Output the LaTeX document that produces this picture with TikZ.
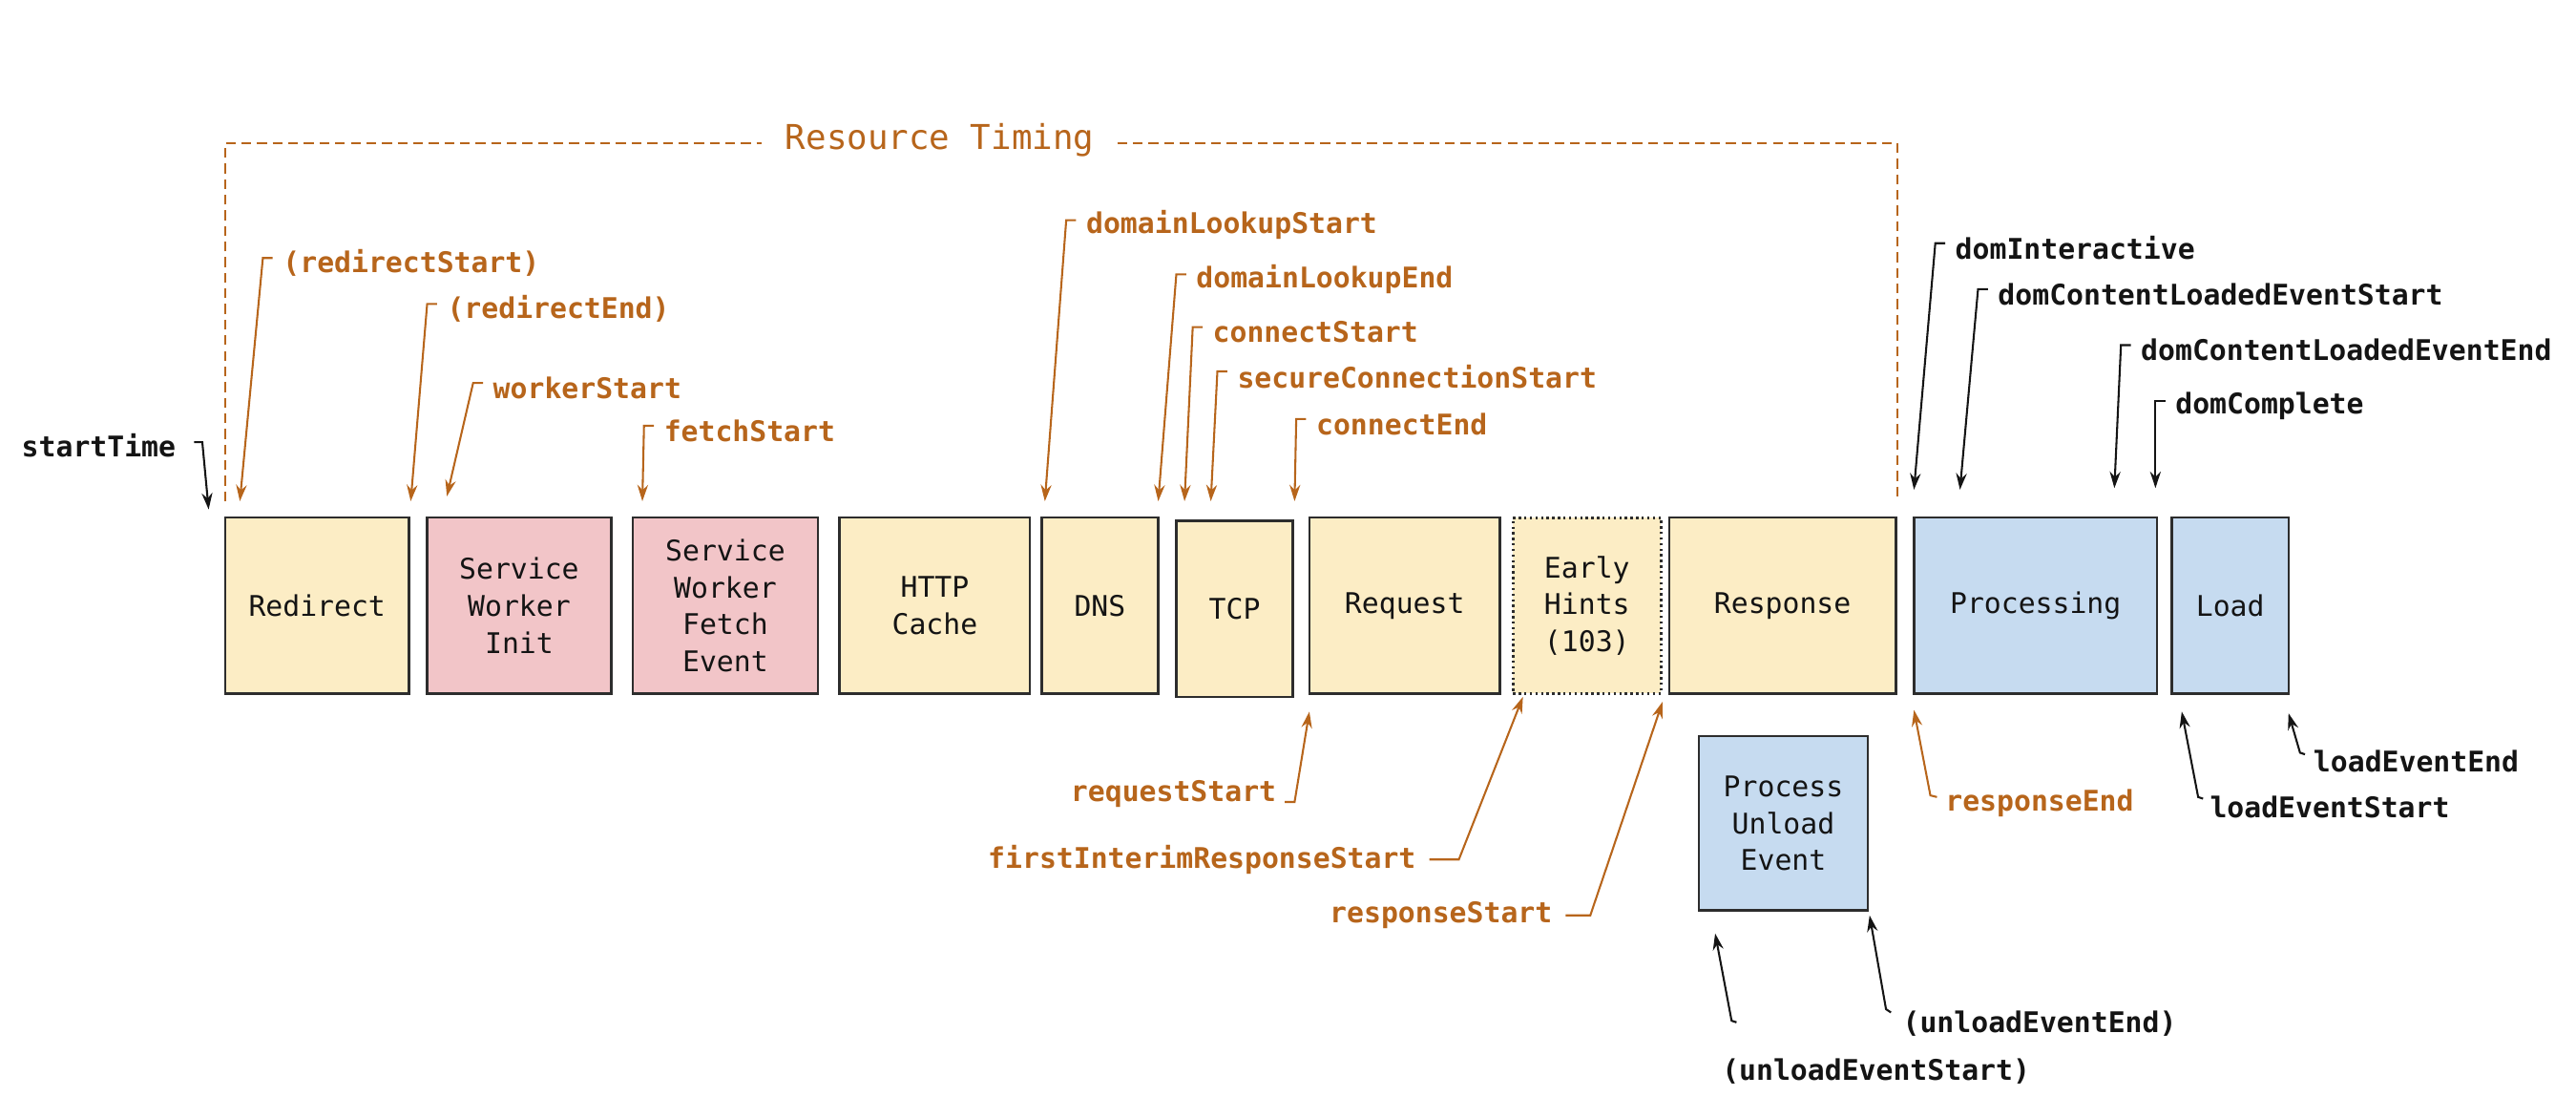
\documentclass[tikz,border=0pt]{standalone}
\usepackage{fontspec}
\setmonofont{DejaVu Sans Mono}
\usetikzlibrary{arrows.meta,calc}
\definecolor{ora}{RGB}{183,101,27}
\definecolor{yel}{RGB}{252,237,197}
\definecolor{pnk}{RGB}{242,197,200}
\definecolor{blu}{RGB}{198,219,240}
\definecolor{bord}{RGB}{45,45,45}
\definecolor{ink}{RGB}{20,20,20}
\begin{document}
\begin{tikzpicture}[x=1pt,y=-1pt,
  box/.style={draw=bord, line width=1.4pt, minimum height=107pt, inner sep=0pt, align=center,
    font=\ttfamily\fontsize{17.3}{22.5}\selectfont, text=ink},
  ybox/.style={box, fill=yel},
  pbox/.style={box, fill=pnk},
  bbox/.style={box, fill=blu},
  lbl/.style={font=\ttfamily\bfseries\fontsize{17.3}{20}\selectfont, inner sep=0pt},
  olbl/.style={lbl, text=ora},
  klbl/.style={lbl, text=ink},
  oarr/.style={draw=ora, line width=1.2pt, -{Stealth[length=10pt,width=6.5pt]}},
  karr/.style={draw=ink, line width=1.2pt, -{Stealth[length=10pt,width=6.5pt]}},
  dsh/.style={draw=ora, line width=1.2pt, dash pattern=on 6pt off 3.5pt}
]
\useasboundingbox (0,0) rectangle (1568,680);

% ---- Resource Timing bracket
\node[font=\ttfamily\fontsize{20.8}{24}\selectfont, text=ora, inner sep=14pt] (rt) at (572,85) {Resource Timing};
\coordinate (bl) at (137,305);
\coordinate (tlc) at (137,87);
\coordinate (trc) at (1155,87);
\coordinate (brc) at (1155,305);
\draw[dsh] (bl) -- (tlc) -- (tlc -| rt.west);
\draw[dsh] (trc -| rt.east) -- (trc) -- (brc);

% ---- boxes
\node[ybox, minimum width=112pt] (redirect) at (193,368.5) {Redirect};
\node[pbox, minimum width=112pt] (swinit) at (316,368.5) {Service\\Worker\\Init};
\node[pbox, minimum width=113pt] (swfetch) at (441.5,368.5) {Service\\Worker\\Fetch\\Event};
\node[ybox, minimum width=116pt] (cache) at (569,368.5) {HTTP\\Cache};
\node[ybox, minimum width=71pt] (dns) at (669.5,368.5) {DNS};
\node[ybox, minimum width=71pt] (tcp) at (751.5,370.5) {TCP};
\node[ybox, minimum width=116pt] (request) at (855,368.5) {Request};
\node[ybox, minimum width=90pt, dotted, line width=1.6pt] (early) at (966,368.5) {Early\\Hints\\(103)};
\node[ybox, minimum width=138pt] (response) at (1085,368.5) {Response};
\node[bbox, minimum width=148pt] (processing) at (1239,368.5) {Processing};
\node[bbox, minimum width=71pt] (load) at (1357.5,368.5) {Load};
\node[bbox, minimum width=103pt, minimum height=106pt] (unload) at (1085.5,501) {Process\\Unload\\Event};

% ---- tip coordinates
\coordinate (tStart) at (127,310);
\coordinate (tRS) at (146,305);
\coordinate (tRE) at (250,305);
\coordinate (tWS) at (272,302);
\coordinate (tFS) at (391,305);
\coordinate (tDLS) at (636,305);
\coordinate (tDLE) at (705,305);
\coordinate (tCS) at (721,305);
\coordinate (tSCS) at (737,305);
\coordinate (tCE) at (788,305);
\coordinate (tDI) at (1165,298);
\coordinate (tDCLS) at (1193,298);
\coordinate (tDCLE) at (1287,297);
\coordinate (tDC) at (1312,297);
\coordinate (tReqS) at (797,433);
\coordinate (tFIRS) at (927,424);
\coordinate (tRespS) at (1012,427);
\coordinate (tRespE) at (1165,432);
\coordinate (tLES) at (1328,433);
\coordinate (tLEE) at (1393,434);
\coordinate (tUEE) at (1138,557);
\coordinate (tUES) at (1044,568);

% ---- top labels
\node[klbl, anchor=west] (lStart) at (13,271) {startTime};
\node[olbl, anchor=west] (lRS) at (172,160) {(redirectStart)};
\node[olbl, anchor=west] (lRE) at (272,188) {(redirectEnd)};
\node[olbl, anchor=west] (lWS) at (300,236) {workerStart};
\node[olbl, anchor=west] (lFS) at (404,262) {fetchStart};
\node[olbl, anchor=west] (lDLS) at (661,137) {domainLookupStart};
\node[olbl, anchor=west] (lDLE) at (728,170) {domainLookupEnd};
\node[olbl, anchor=west] (lCS) at (738,202) {connectStart};
\node[olbl, anchor=west] (lSCS) at (753,229) {secureConnectionStart};
\node[olbl, anchor=west] (lCE) at (801,258) {connectEnd};
\node[klbl, anchor=west] (lDI) at (1190,151) {domInteractive};
\node[klbl, anchor=west] (lDCLS) at (1216,179) {domContentLoadedEventStart};
\node[klbl, anchor=west] (lDCLE) at (1303,213) {domContentLoadedEventEnd};
\node[klbl, anchor=west] (lDC) at (1324,247) {domComplete};

% ---- bottom labels
\node[olbl, anchor=east] (lReqS) at (777,483) {requestStart};
\node[olbl, anchor=east] (lFIRS) at (862,523) {firstInterimResponseStart};
\node[olbl, anchor=east] (lRespS) at (945,557) {responseStart};
\node[olbl, anchor=west] (lRespE) at (1184,489) {responseEnd};
\node[klbl, anchor=west] (lLES) at (1345,491) {loadEventStart};
\node[klbl, anchor=west] (lLEE) at (1408,463) {loadEventEnd};
\node[klbl, anchor=west] (lUEE) at (1158,623) {(unloadEventEnd)};
\node[klbl, anchor=west] (lUES) at (1048,652) {(unloadEventStart)};

% ---- top connectors
\draw[karr] ([shift={(11pt,2pt)}]lStart.east) -- ([shift={(16pt,2pt)}]lStart.east) -- (tStart);
\foreach \l/\t in {lRS/tRS, lRE/tRE, lWS/tWS, lFS/tFS, lDLS/tDLS, lDLE/tDLE, lCS/tCS, lSCS/tSCS, lCE/tCE}{
  \draw[oarr] ([shift={(-6pt,3pt)}]\l.west) -- ([shift={(-12pt,3pt)}]\l.west) -- (\t);
}
\foreach \l/\t in {lDI/tDI, lDCLS/tDCLS, lDCLE/tDCLE, lDC/tDC}{
  \draw[karr] ([shift={(-6pt,3pt)}]\l.west) -- ([shift={(-12pt,3pt)}]\l.west) -- (\t);
}

% ---- bottom connectors
\draw[oarr] ([shift={(5pt,-5pt)}]lReqS.east) -- ([shift={(11pt,-5pt)}]lReqS.east) -- (tReqS);
\draw[oarr] ([xshift=8pt]lFIRS.east) -- ([xshift=26pt]lFIRS.east) -- (tFIRS);
\draw[oarr] ([xshift=8pt]lRespS.east) -- ([xshift=23pt]lRespS.east) -- (tRespS);
\draw[oarr] ([shift={(-5pt,4pt)}]lRespE.west) -- ([shift={(-9pt,5pt)}]lRespE.west) -- (tRespE);
\draw[karr] ([shift={(-4pt,5pt)}]lLES.west) -- ([shift={(-7pt,6pt)}]lLES.west) -- (tLES);
\draw[karr] ([shift={(-5pt,4pt)}]lLEE.west) -- ([shift={(-8pt,5pt)}]lLEE.west) -- (tLEE);
\draw[karr] ([shift={(-7pt,-1pt)}]lUEE.north west) -- ([shift={(-10pt,1pt)}]lUEE.north west) -- (tUEE);
\draw[karr] ([shift={(9pt,22pt)}]lUES.north west) -- ([shift={(6pt,23pt)}]lUES.north west) -- (tUES);
\end{tikzpicture}
\end{document}
